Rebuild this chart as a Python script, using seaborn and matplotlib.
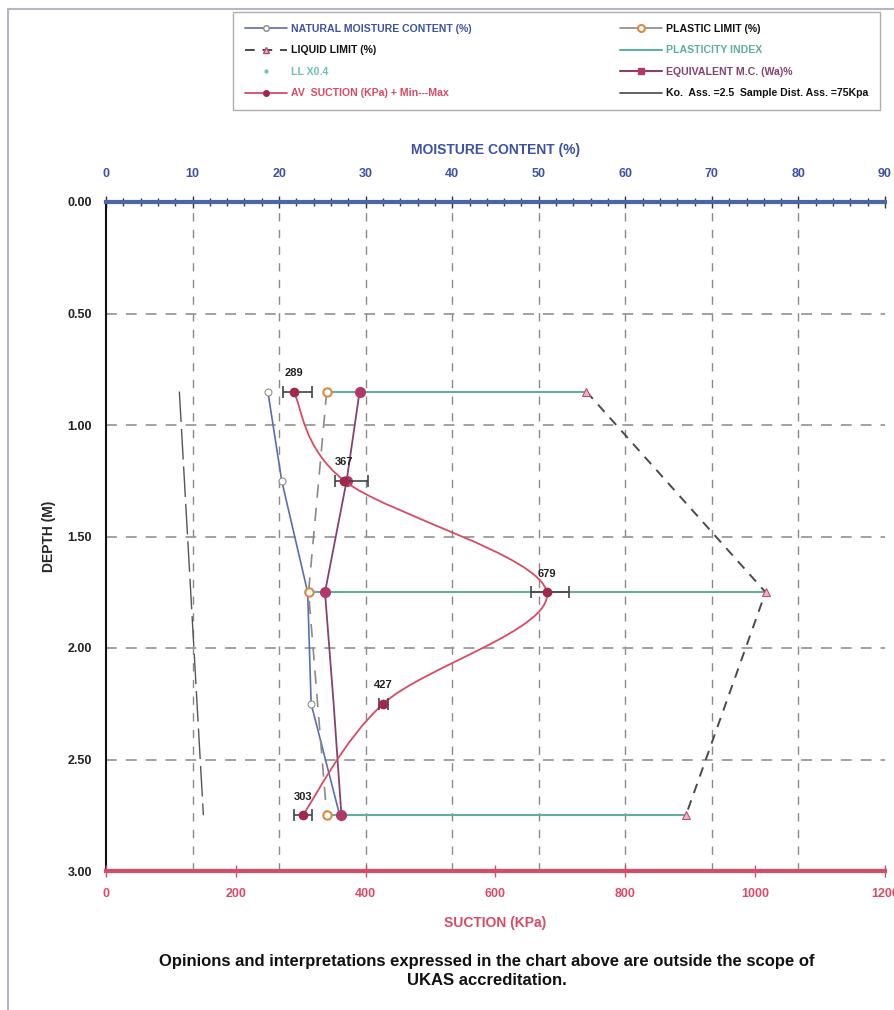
import matplotlib
matplotlib.use("Agg")
import matplotlib.pyplot as plt
from matplotlib.path import Path
from matplotlib.patches import PathPatch
from matplotlib.lines import Line2D
import seaborn as sns
import numpy as np
import pandas as pd

# ---------------- data ----------------
depth_all = [0.85, 1.25, 1.75, 2.25, 2.75]
nmc = [18.7, 20.3, 23.3, 23.7, 27.0]            # natural moisture content %
depth_lim = [0.85, 1.75, 2.75]
liquid_limit = [55.5, 76.2, 67.0]
plastic_limit = [25.5, 23.4, 25.5]
eq_mc = [29.3, 27.8, 25.3, 26.3, 27.2]          # equivalent M.C. %
suction = [289, 367, 679, 427, 303]             # kPa
suction_min = [273, 353, 655, 420, 290]
suction_max = [317, 404, 713, 434, 317]
ko_depth = [0.85, 2.75]
ko_suction = [113, 150]

mc_ticks = [0, 10, 20, 30, 40, 50, 60, 70, 80, 90]
suc_ticks = [0, 200, 400, 600, 800, 1000, 1200]
depth_ticks = [0.0, 0.5, 1.0, 1.5, 2.0, 2.5, 3.0]

legend_labels = ["NATURAL MOISTURE CONTENT (%)", "LIQUID LIMIT (%)", "LL X0.4",
                 "AV  SUCTION (KPa) + Min---Max", "PLASTIC LIMIT (%)", "PLASTICITY INDEX",
                 "EQUIVALENT M.C. (Wa)%", "Ko.  Ass. =2.5  Sample Dist. Ass. =75Kpa"]

# ---------------- style ----------------
sns.set_style("white")
plt.rcParams['font.family'] = ['Liberation Sans', 'DejaVu Sans']

C_NMC = "#5b6db2"
C_NMC_TXT = "#3d52a6"
C_LL = "#4a4a4a"
C_LLM = "#c2476a"
C_PL = "#8a8a8a"
C_PLM = "#d98a45"
C_PI = "#5fae9e"
C_EQ = "#86416f"
C_SUC = "#d94a64"
C_SUCM = "#a02848"
C_KO = "#555555"
C_LL04 = "#6cc0b8"

fig = plt.figure(figsize=(8.95, 10.10), dpi=100)
ax = fig.add_axes([106/895, 1-871/1010, (885-106)/895, (871-202)/1010])
ax2 = ax.twiny()

# scan frame
fig.add_artist(Line2D([8/895, 1.0], [1-9/1010, 1-9/1010], transform=fig.transFigure, color="#b4b6c0", lw=1.5))
fig.add_artist(Line2D([8/895, 8/895], [1-9/1010, 0.0], transform=fig.transFigure, color="#b4b6c0", lw=1.5))

ax.set_xlim(0, 90)
ax.set_ylim(3.0, 0.0)
ax2.set_xlim(0, 1200)

# grid
for v in range(10, 90, 10):
    ax.axvline(v, color="#8a8a8a", ls=(0, (6, 6)), lw=1.0, zorder=0)
for d in [0.5, 1.0, 1.5, 2.0, 2.5]:
    ax.axhline(d, color="#9a9a9a", ls=(0, (6, 5)), lw=1.3, zorder=0)

# plasticity index lines
for d, pl, ll in zip(depth_lim, plastic_limit, liquid_limit):
    ax.plot([pl, ll], [d, d], color=C_PI, lw=1.5, zorder=2)

# natural moisture content
df_nmc = pd.DataFrame({"mc": nmc, "depth": depth_all})
sns.lineplot(data=df_nmc, x="mc", y="depth", sort=False, estimator=None, ax=ax,
             color=C_NMC, lw=1.2, marker="o", markersize=5, markerfacecolor="white",
             markeredgecolor="#8a8a8a", zorder=3)

# liquid limit
df_ll = pd.DataFrame({"mc": liquid_limit, "depth": depth_lim})
sns.lineplot(data=df_ll, x="mc", y="depth", sort=False, estimator=None, ax=ax,
             color=C_LL, lw=1.4, ls=(0, (5, 4)), marker="^", markersize=6,
             markerfacecolor="#e9b4c0", markeredgecolor=C_LLM, zorder=3)

# plastic limit
df_pl = pd.DataFrame({"mc": plastic_limit, "depth": depth_lim})
sns.lineplot(data=df_pl, x="mc", y="depth", sort=False, estimator=None, ax=ax,
             color=C_PL, lw=1.2, ls=(0, (8, 6)), marker="o", markersize=6,
             markerfacecolor="white", markeredgecolor=C_PLM, markeredgewidth=1.5, zorder=3)

# equivalent M.C.
df_eq = pd.DataFrame({"mc": eq_mc, "depth": depth_all})
sns.lineplot(data=df_eq, x="mc", y="depth", sort=False, estimator=None, ax=ax,
             color=C_EQ, lw=1.3, zorder=4)
ax.plot(eq_mc[:3] + eq_mc[4:], depth_all[:3] + depth_all[4:], ls="none", marker="o",
        markersize=7, color="#b0386a", zorder=5)

# Ko line (suction axis)
df_ko = pd.DataFrame({"s": ko_suction, "depth": ko_depth})
sns.lineplot(data=df_ko, x="s", y="depth", sort=False, estimator=None, ax=ax2,
             color=C_KO, lw=1.0, ls=(0, (22, 5)), zorder=3)

# suction smooth curve (Catmull-Rom rendered as Bezier path)
P = np.column_stack([suction, depth_all]).astype(float)
verts = [P[0]]
codes = [Path.MOVETO]
n = len(P)
for i in range(n - 1):
    p0 = P[i - 1] if i > 0 else P[i]
    p1 = P[i]
    p2 = P[i + 1]
    p3 = P[i + 2] if i + 2 < n else P[i + 1]
    c1 = p1 + (p2 - p0) / 6.0
    c2 = p2 - (p3 - p1) / 6.0
    verts += [c1, c2, p2]
    codes += [Path.CURVE4] * 3
ax2.add_patch(PathPatch(Path(verts, codes), facecolor="none", edgecolor=C_SUC, lw=1.3, zorder=4))

xerr = [np.array(suction) - np.array(suction_min), np.array(suction_max) - np.array(suction)]
ax2.errorbar(suction, depth_all, xerr=xerr, fmt="none", ecolor="#444444", elinewidth=1.2,
             capsize=4, capthick=1.2, zorder=5)
ax2.plot(suction, depth_all, ls="none", marker="o", markersize=6, color=C_SUCM, zorder=6)
for s, d in zip(suction, depth_all):
    ax2.text(s, d - 0.06, f"{s}", fontsize=8, fontweight="bold", ha="center", va="bottom",
             color="#222222", zorder=7)

# ---------------- axes styling ----------------
# moisture content axis on top
ax.xaxis.set_ticks_position("top")
ax.xaxis.set_label_position("top")
ax.set_xticks(mc_ticks)
ax.set_xticklabels([str(t) for t in mc_ticks], color=C_NMC_TXT, fontsize=9, fontweight="bold")
ax.set_xticks(np.arange(0, 91, 2), minor=True)
ax.tick_params(axis="x", which="major", direction="inout", length=8, width=1, color="#333333", pad=12)
ax.tick_params(axis="x", which="minor", direction="inout", length=6, width=1, color="#333366")
ax.set_xlabel("MOISTURE CONTENT (%)", color=C_NMC_TXT, fontsize=10, fontweight="bold", labelpad=10)

ax.set_yticks(depth_ticks)
ax.set_yticklabels([f"{t:.2f}" for t in depth_ticks], fontsize=9, fontweight="bold", color="#222222")
ax.set_yticks(np.arange(0, 3.01, 0.1), minor=True)
ax.tick_params(axis="y", which="major", direction="inout", length=8, width=1.2, color="#111111", pad=6)
ax.tick_params(axis="y", which="minor", direction="inout", length=6, width=1.2, color="#111111")
ax.set_ylabel("DEPTH (M)", fontsize=10, fontweight="bold", labelpad=8)

# suction axis at bottom
ax2.xaxis.set_ticks_position("bottom")
ax2.xaxis.set_label_position("bottom")
ax2.set_xticks(suc_ticks)
ax2.set_xticklabels([str(t) for t in suc_ticks], color=C_SUC, fontsize=9, fontweight="bold")
ax2.tick_params(axis="x", which="major", direction="inout", length=8, width=1, color=C_SUC, pad=8)
ax2.set_xlabel("SUCTION (KPa)", color=C_SUC, fontsize=10, fontweight="bold", labelpad=12)

for a in (ax, ax2):
    a.spines["right"].set_visible(False)
ax.spines["left"].set_color("#111111")
ax.spines["left"].set_linewidth(1.5)
ax.spines["top"].set_color("#4d66a8")
ax.spines["top"].set_linewidth(3)
ax.spines["bottom"].set_visible(False)
ax2.spines["left"].set_visible(False)
ax2.spines["top"].set_visible(False)
ax2.spines["bottom"].set_color(C_SUC)
ax2.spines["bottom"].set_linewidth(3)

# ---------------- legend ----------------
handles = [
    Line2D([], [], color=C_NMC, lw=1.2, marker="o", markersize=4, markerfacecolor="white", markeredgecolor="#8a8a8a"),
    Line2D([], [], color=C_LL, lw=1.4, ls=(0, (5, 4)), marker="^", markersize=5, markerfacecolor="#e9b4c0", markeredgecolor=C_LLM),
    Line2D([], [], color=C_LL04, lw=0, marker=".", markersize=4),
    Line2D([], [], color=C_SUC, lw=1.3, marker="o", markersize=4, markerfacecolor=C_SUCM, markeredgecolor=C_SUCM),
    Line2D([], [], color=C_PL, lw=1.2, marker="o", markersize=5, markerfacecolor="white", markeredgecolor=C_PLM, markeredgewidth=1.5),
    Line2D([], [], color=C_PI, lw=1.5),
    Line2D([], [], color=C_EQ, lw=1.5, marker="s", markersize=4, markerfacecolor="#b0386a", markeredgecolor="#b0386a"),
    Line2D([], [], color=C_KO, lw=1.3),
]
label_colors = [C_NMC_TXT, "#111111", C_LL04, C_SUC, "#111111", C_PI, C_EQ, "#111111"]
leg = fig.legend(handles, legend_labels, ncol=2, loc="upper left",
                 bbox_to_anchor=(233/895, 1-105/1010, (880-233)/895, 93/1010), mode="expand",
                 frameon=True, fancybox=False, edgecolor="#9a9a9a",
                 prop={"weight": "bold", "size": 7.6}, handlelength=4.0,
                 labelspacing=1.1, borderpad=1.1, handletextpad=0.4, borderaxespad=0)
for t, c in zip(leg.get_texts(), label_colors):
    t.set_color(c)

# ---------------- footer ----------------
fig.text(487/895, 1-971/1010,
         "Opinions and interpretations expressed in the chart above are outside the scope of\nUKAS accreditation.",
         ha="center", va="center", fontsize=12, fontweight="bold", color="#111111", linespacing=1.35)

fig.savefig("out.png", dpi=100)
